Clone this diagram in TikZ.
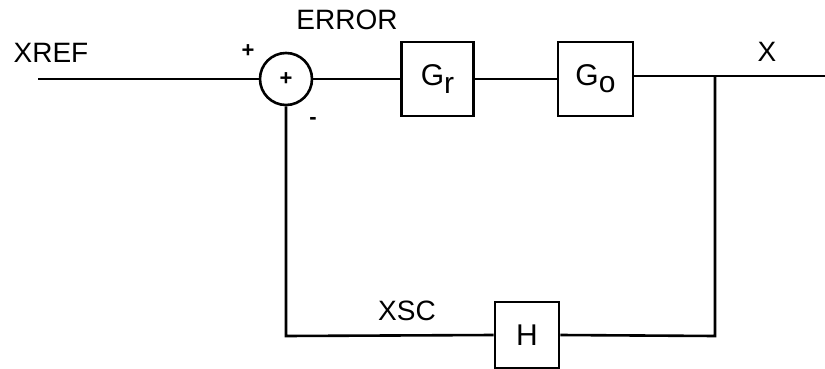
\documentclass[tikz,border=0pt]{standalone}
\usepackage{fontspec}
\setmainfont{Liberation Sans}
\begin{document}
\begin{tikzpicture}[x=1pt,y=-1pt,
  wire/.style={line width=2.6pt},
  blockbox/.style={draw,line width=2.6pt,minimum width=72pt,minimum height=74pt,inner sep=0pt,font=\fontsize{30}{34}\selectfont},
  sumnode/.style={draw,circle,line width=2.6pt,minimum size=52pt,inner sep=0pt,font=\fontsize{22}{24}\selectfont\bfseries},
  lbl/.style={inner sep=0pt,font=\fontsize{28}{32}\selectfont}]
\useasboundingbox (0,0) rectangle (825,369);
\fill[white] (0,0) rectangle (825,369);
\coordinate (in) at (38,79);
\node[sumnode] (sum) at (286,79) {+};
\node[blockbox] (gr) at (437.5,79) {G\raisebox{-0.45ex}{r}};
\node[blockbox,minimum width=75pt] (go) at (595.5,79) {G\raisebox{-0.45ex}{o}};
\coordinate (br) at (715,76);
\coordinate (out) at (825,76);
\node[blockbox,minimum width=64pt,minimum height=66pt] (h) at (527,335) {H};
\coordinate (bl) at (286,336);
\coordinate (hr) at (715,336);
\draw[wire] (in) -- (sum.west);
\draw[wire] (sum.east) -- (gr.west);
\draw[wire] (gr.east) -- (go.west);
\draw[wire] (go.east |- br) -- (out);
\draw[wire] (br) -- (hr) -- (h.east);
\draw[wire] (h.west) -- (bl) -- (sum.south);
\node[lbl] (xref) at (51,53) {XREF};
\node[lbl] (err) at (347,20) {ERROR};
\node[lbl] (x) at (767,52) {X};
\node[lbl] (xsc) at (407,311) {XSC};
\node[lbl,font=\fontsize{22}{24}\selectfont\bfseries] (plus) at (248,51) {+};
\node[lbl,font=\fontsize{22}{24}\selectfont\bfseries] (minus) at (313,121) {-};
\end{tikzpicture}
\end{document}
